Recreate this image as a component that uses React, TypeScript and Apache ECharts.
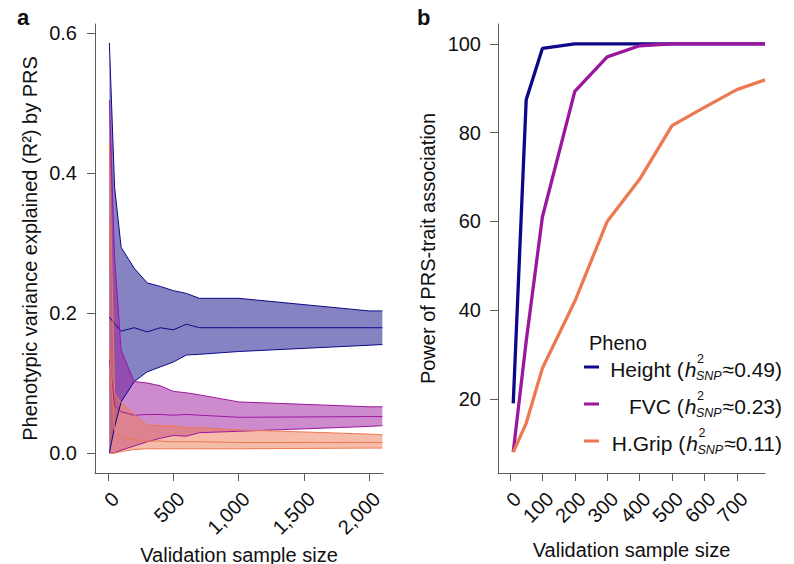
import React, { useEffect, useRef } from 'react';
import * as echarts from 'echarts';

// ---------- data: panel a (R2 by validation sample size) ----------
const sampleSizesA = [10, 50, 100, 200, 300, 400, 500, 600, 700, 1000, 2000, 2100];
const heightUpper = [0.586, 0.38, 0.294, 0.264, 0.243, 0.238, 0.232, 0.228, 0.221, 0.221, 0.203, 0.203];
const heightMedian = [0.194, 0.185, 0.174, 0.179, 0.173, 0.179, 0.176, 0.184, 0.179, 0.179, 0.179, 0.179];
const heightLower = [0.0, 0.037, 0.073, 0.102, 0.116, 0.123, 0.13, 0.14, 0.141, 0.145, 0.154, 0.155];
const fvcUpper = [0.504, 0.28, 0.147, 0.102, 0.1, 0.096, 0.088, 0.086, 0.083, 0.073, 0.066, 0.066];
const fvcMedian = [0.133, 0.068, 0.059, 0.054, 0.055, 0.055, 0.054, 0.055, 0.054, 0.051, 0.052, 0.052];
const fvcLower = [0.0, 0.0, 0.004, 0.01, 0.016, 0.021, 0.025, 0.024, 0.029, 0.031, 0.038, 0.039];
const gripUpper = [0.443, 0.085, 0.072, 0.055, 0.04, 0.039, 0.039, 0.036, 0.036, 0.033, 0.027, 0.026];
const gripMedian = [0.15, 0.033, 0.022, 0.019, 0.017, 0.017, 0.016, 0.016, 0.016, 0.015, 0.015, 0.015];
const gripLower = [0.0, 0.0, 0.002, 0.005, 0.006, 0.006, 0.006, 0.006, 0.006, 0.006, 0.007, 0.007];

// ---------- data: panel b (power) ----------
const sampleSizesB = [10, 50, 100, 200, 300, 400, 500, 600, 700, 787];
const powerHeight = [19, 87.4, 99, 100, 100, 100, 100, 100, 100, 100];
const powerFvc = [8, 33, 61, 89.3, 97.1, 99.6, 100, 100, 100, 100];
const powerGrip = [8, 14.5, 26.9, 42, 60, 69.5, 81.6, 85.7, 89.7, 91.9];

// ---------- ticks ----------
const ticksAX = [0, 500, 1000, 1500, 2000];
const ticksAY = [0, 0.2, 0.4, 0.6];
const ticksBX = [0, 100, 200, 300, 400, 500, 600, 700];
const ticksBY = [20, 40, 60, 80, 100];

// ---------- legend ----------
const phenos = ['Height', 'FVC', 'H.Grip'];
const h2snp = ['0.49', '0.23', '0.11'];
const colors = ['#0D0887', '#9C179E', '#ED7953'];

const FONT = '"Liberation Sans", Arial, Helvetica, sans-serif';
const AXIS_COLOR = '#5c5c5c';
const TEXT_COLOR = '#111111';
const LEGEND_SIZE = 21;

function rgba(hex: string, a: number) {
  const n = parseInt(hex.slice(1), 16);
  return `rgba(${(n >> 16) & 255},${(n >> 8) & 255},${n & 255},${a})`;
}

let measureCtx: CanvasRenderingContext2D | null = null;
function textWidth(text: string, size: number, style = 'normal') {
  if (!measureCtx) measureCtx = document.createElement('canvas').getContext('2d');
  if (!measureCtx) return text.length * size * 0.55;
  measureCtx.font = `${style} ${size}px ${FONT}`;
  return measureCtx.measureText(text).width;
}

function bandSeries(upper: number[], lower: number[], color: string) {
  return {
    type: 'custom',
    coordinateSystem: 'cartesian2d',
    xAxisIndex: 0,
    yAxisIndex: 0,
    silent: true,
    data: [[sampleSizesA[0], upper[0]]],
    renderItem: (_params: any, api: any) => {
      const pts: number[][] = [];
      for (let i = 0; i < sampleSizesA.length; i++) pts.push(api.coord([sampleSizesA[i], upper[i]]));
      for (let i = sampleSizesA.length - 1; i >= 0; i--) pts.push(api.coord([sampleSizesA[i], lower[i]]));
      return {
        type: 'polygon',
        shape: { points: pts },
        style: { fill: rgba(color, 0.5), stroke: null, lineWidth: 0 },
      };
    },
  };
}

function lineA(values: number[], color: string) {
  return {
    type: 'line',
    xAxisIndex: 0,
    yAxisIndex: 0,
    silent: true,
    symbol: 'none',
    data: sampleSizesA.map((x, i) => [x, values[i]]),
    lineStyle: { color, width: 1 },
  };
}

function lineB(values: number[], color: string) {
  return {
    type: 'line',
    xAxisIndex: 1,
    yAxisIndex: 1,
    silent: true,
    symbol: 'none',
    data: sampleSizesB.map((x, i) => [x, values[i]]),
    lineStyle: { color, width: 3.3 },
  };
}

function axisCommon() {
  return {
    type: 'value',
    splitLine: { show: false },
    axisLine: { show: true, onZero: false, lineStyle: { color: AXIS_COLOR, width: 1 } },
    nameTextStyle: { fontSize: 20, fontFamily: FONT, color: TEXT_COLOR },
  };
}

function xAxisCfg(grid: number, min: number, max: number, ticks: number[], gap: number) {
  return {
    ...axisCommon(),
    gridIndex: grid,
    min,
    max,
    axisTick: { show: true, customValues: ticks, length: 8, lineStyle: { color: AXIS_COLOR } },
    axisLabel: {
      customValues: ticks,
      showMinLabel: true,
      showMaxLabel: true,
      hideOverlap: false,
      rotate: 45,
      align: 'right',
      verticalAlign: 'top',
      margin: 15,
      lineHeight: 21,
      fontSize: 20,
      fontFamily: FONT,
      color: TEXT_COLOR,
      formatter: (v: number) => v.toLocaleString('en-US'),
    },
    name: 'Validation sample size',
    nameLocation: 'middle',
    nameGap: gap,
  };
}

function yAxisCfg(grid: number, min: number, max: number, ticks: number[], name: string, gap: number, fmt: (v: number) => string, margin: number) {
  return {
    ...axisCommon(),
    gridIndex: grid,
    min,
    max,
    axisTick: { show: true, customValues: ticks, length: 8, lineStyle: { color: AXIS_COLOR } },
    axisLabel: {
      customValues: ticks,
      showMinLabel: true,
      showMaxLabel: true,
      margin,
      fontSize: 20,
      fontFamily: FONT,
      color: TEXT_COLOR,
      formatter: fmt,
    },
    name,
    nameLocation: 'middle',
    nameRotate: 90,
    nameGap: gap,
  };
}

function textEl(text: string, x: number, y: number, size: number, opts: any = {}) {
  return {
    type: 'text',
    silent: true,
    style: {
      text,
      x,
      y,
      fontSize: size,
      fontFamily: FONT,
      fontStyle: opts.fontStyle || 'normal',
      fontWeight: opts.fontWeight || 'normal',
      fill: TEXT_COLOR,
      align: opts.align || 'left',
      textAlign: opts.align || 'left',
      verticalAlign: 'middle',
      textVerticalAlign: 'middle',
    },
  };
}

function legendGraphics() {
  const els: any[] = [];
  els.push(textEl('Pheno', 589, 343, 20));
  const rowY = [367, 404, 441];
  const right = 782;
  phenos.forEach((p, i) => {
    const y = rowY[i];
    els.push({
      type: 'line',
      silent: true,
      shape: { x1: 584, y1: y, x2: 599, y2: y },
      style: { stroke: colors[i], lineWidth: 3 },
    });
    const ty = y + 2;
    const tail = '\u2248' + h2snp[i] + ')';
    const wTail = textWidth(tail, LEGEND_SIZE);
    const xTail = right - wTail;
    const wSub = textWidth('SNP', 12.5, 'italic');
    const xScript = xTail - wSub - 1;
    const wH = textWidth('h', LEGEND_SIZE, 'italic');
    const xH = xScript - wH + 0.5;
    els.push(textEl(tail, xTail, ty, LEGEND_SIZE));
    els.push(textEl('SNP', xScript, ty + 7, 12.5, { fontStyle: 'italic' }));
    els.push(textEl('2', xScript + 1, ty - 10, 12.5));
    els.push(textEl('h', xH, ty, LEGEND_SIZE, { fontStyle: 'italic' }));
    els.push(textEl(p + ' (', xH - 1, ty, LEGEND_SIZE, { align: 'right' }));
  });
  return els;
}

export default function App() {
  const ref = useRef<HTMLDivElement>(null);

  useEffect(() => {
    document.body.style.margin = '0';
    if (!ref.current) return;
    const chart = echarts.init(ref.current, null, { renderer: 'svg' });
    const option: any = {
      animation: false,
      backgroundColor: '#ffffff',
      tooltip: { show: false },
      grid: [
        { left: 95, top: 24, width: 288, height: 449, outerBoundsMode: 'none', containLabel: false },
        { left: 498, top: 24, width: 267, height: 449, outerBoundsMode: 'none', containLabel: false },
      ],
      xAxis: [
        xAxisCfg(0, -100, 2105, ticksAX, 65),
        xAxisCfg(1, -37, 787, ticksBX, 67),
      ],
      yAxis: [
        yAxisCfg(0, -0.0286, 0.613, ticksAY, 'Phenotypic variance explained (R\u00B2) by PRS', 55, (v) => v.toFixed(1), 18),
        yAxisCfg(1, 3.3, 104.5, ticksBY, 'Power of PRS-trait association', 60, (v) => String(v), 17),
      ],
      series: [
        bandSeries(heightUpper, heightLower, colors[0]),
        lineA(heightUpper, colors[0]),
        lineA(heightLower, colors[0]),
        lineA(heightMedian, colors[0]),
        bandSeries(fvcUpper, fvcLower, colors[1]),
        lineA(fvcUpper, colors[1]),
        lineA(fvcLower, colors[1]),
        lineA(fvcMedian, colors[1]),
        bandSeries(gripUpper, gripLower, colors[2]),
        lineA(gripUpper, colors[2]),
        lineA(gripLower, colors[2]),
        lineA(gripMedian, colors[2]),
        lineB(powerHeight, colors[0]),
        lineB(powerFvc, colors[1]),
        lineB(powerGrip, colors[2]),
      ],
      graphic: [
        textEl('a', 17, 17.5, 22, { fontWeight: 'bold' }),
        textEl('b', 417, 17.5, 22, { fontWeight: 'bold' }),
        ...legendGraphics(),
      ],
    };
    chart.setOption(option);
    return () => chart.dispose();
  }, []);

  return <div ref={ref} style={{ width: 794, height: 564, background: '#fff' }} />;
}
